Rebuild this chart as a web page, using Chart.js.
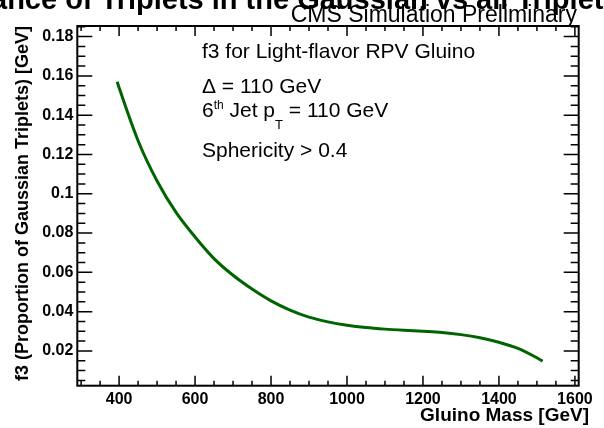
<!DOCTYPE html>
<html>
<head>
<meta charset="utf-8">
<script src="https://cdn.jsdelivr.net/npm/chart.js@4.4.0/dist/chart.umd.min.js"></script>
<style>
  body { margin: 0; background: #fff; }
  #wrap { width: 604px; height: 428px; }
</style>
</head>
<body>
<div id="wrap"><canvas id="myChart" width="604" height="428"></canvas></div>
<script>
      // gluino mass [GeV] and fitted f3
      const masses = [395, 400, 450, 500, 550, 600, 650, 700, 750, 800, 850, 900, 950, 1000,
        1050, 1100, 1150, 1200, 1250, 1300, 1350, 1400, 1450, 1500, 1515];
      const f3Values = [0.157, 0.154, 0.127, 0.1065, 0.0905, 0.078, 0.067, 0.0585, 0.0515, 0.0455,
        0.0408, 0.0372, 0.0348, 0.0331, 0.0319, 0.0311, 0.0305, 0.0300, 0.0294, 0.0283,
        0.0267, 0.0244, 0.0213, 0.0165, 0.0148];

      const xRange = [290, 1610];
      const yRange = [0.0023, 0.1854];
      const xTickStep = 50;     // minor
      const xLabelStep = 200;   // major
      const yTickStep = 0.005;
      const yLabelStep = 0.02;

      const FONT = '"Liberation Sans", Arial, Helvetica, sans-serif';

      function isMajor(v, step) {
        const r = v / step;
        return Math.abs(r - Math.round(r)) < 1e-6;
      }

      // ROOT style frame with ticks pointing inwards on all 4 sides
      const framePlugin = {
        id: 'rootFrame',
        afterDraw: (chart) => {
          const ctx = chart.ctx;
          const a = chart.chartArea;
          const xs = chart.scales.x, ys = chart.scales.y;
          ctx.save();
          ctx.strokeStyle = '#000';
          ctx.lineWidth = 1.5;
          ctx.beginPath();
          xs.ticks.forEach(t => {
            const px = xs.getPixelForValue(t.value);
            const len = isMajor(t.value, xLabelStep) ? 10 : 5;
            ctx.moveTo(px, a.bottom); ctx.lineTo(px, a.bottom - len);
            ctx.moveTo(px, a.top); ctx.lineTo(px, a.top + len);
          });
          ys.ticks.forEach(t => {
            const py = ys.getPixelForValue(t.value);
            const len = isMajor(t.value, yLabelStep) ? 15 : 8;
            ctx.moveTo(a.left, py); ctx.lineTo(a.left + len, py);
            ctx.moveTo(a.right, py); ctx.lineTo(a.right - len, py);
          });
          ctx.stroke();
          ctx.lineWidth = 2;
          ctx.strokeRect(a.left, a.top, a.right - a.left, a.bottom - a.top);
          ctx.restore();
        }
      };

      const textPlugin = {
        id: 'rootText',
        afterDraw: (chart) => {
          const ctx = chart.ctx;
          ctx.save();
          ctx.fillStyle = '#000';
          ctx.textBaseline = 'alphabetic';

          // canvas title, only its lower part fits on the pad
          ctx.font = 'bold 29px ' + FONT;
          ctx.textAlign = 'left';
          const pre = ctx.measureText('Accept').width;
          ctx.fillText('Acceptance of Triplets in the Gaussian vs all Triplets', -9 - pre, 9);

          ctx.font = '23px ' + FONT;
          ctx.textAlign = 'right';
          ctx.fillText('CMS Simulation Preliminary', 577, 22);

          // x axis title, ROOT puts it right aligned
          ctx.font = 'bold 19px ' + FONT;
          ctx.fillText('Gluino Mass [GeV]', 589, 421);

          ctx.textAlign = 'left';
          ctx.font = '21px ' + FONT;
          const x0 = 202;
          ctx.fillText('f3 for Light-flavor RPV Gluino', x0, 58);
          ctx.fillText('\u0394 = 110 GeV', x0, 93);

          let x = x0;
          ctx.fillText('6', x, 117);
          x += ctx.measureText('6').width;
          ctx.font = '12px ' + FONT;
          ctx.fillText('th', x, 109);
          x += ctx.measureText('th').width;
          ctx.font = '21px ' + FONT;
          ctx.fillText(' Jet p', x, 117);
          x += ctx.measureText(' Jet p').width;
          ctx.font = '13px ' + FONT;
          ctx.fillText('T', x, 129);
          x += ctx.measureText('T').width;
          ctx.font = '21px ' + FONT;
          ctx.fillText(' = 110 GeV', x, 117);

          ctx.fillText('Sphericity > 0.4', x0, 157);
          ctx.restore();
        }
      };

      const data = {
        datasets: [{
          label: 'f3',
          data: masses.map((m, i) => ({x: m, y: f3Values[i]})),
          borderColor: '#006400',
          borderWidth: 3,
          pointRadius: 0,
          cubicInterpolationMode: 'monotone',
          fill: false
        }]
      };

      const config = {
        type: 'line',
        data: data,
        options: {
          responsive: false,
          devicePixelRatio: 1,
          animation: false,
          layout: { padding: { left: 0, top: 26, right: 25.3, bottom: 0 } },
          plugins: {
            legend: { display: false },
            tooltip: { enabled: false }
          },
          scales: {
            x: {
              type: 'linear',
              min: xRange[0],
              max: xRange[1],
              grid: { display: false, drawTicks: false },
              border: { display: false },
              afterFit: (s) => { s.height = 42.3; },
              ticks: {
                stepSize: xTickStep,
                includeBounds: false,
                autoSkip: false,
                maxRotation: 0,
                padding: 4,
                color: '#000',
                font: { family: FONT, size: 16, weight: 'bold' },
                callback: (v) => (isMajor(v, xLabelStep) && v >= 400) ? String(v) : ''
              }
            },
            y: {
              min: yRange[0],
              max: yRange[1],
              grid: { display: false, drawTicks: false },
              border: { display: false },
              afterFit: (s) => { s.width = 77.3; },
              ticks: {
                stepSize: yTickStep,
                includeBounds: false,
                autoSkip: false,
                padding: 4,
                color: '#000',
                font: { family: FONT, size: 16, weight: 'bold' },
                callback: (v) => isMajor(v, yLabelStep) ? String(Math.round(v * 100) / 100) : ''
              },
              title: {
                display: true,
                text: 'f3 (Proportion of Gaussian Triplets) [GeV]',
                align: 'end',
                color: '#000',
                font: { family: FONT, size: 18, weight: 'bold' },
                padding: { top: 12, bottom: 0 }
              }
            }
          }
        },
        plugins: [framePlugin, textPlugin]
      };

      const myChart = new Chart(document.getElementById('myChart'), config);
</script>
</body>
</html>
